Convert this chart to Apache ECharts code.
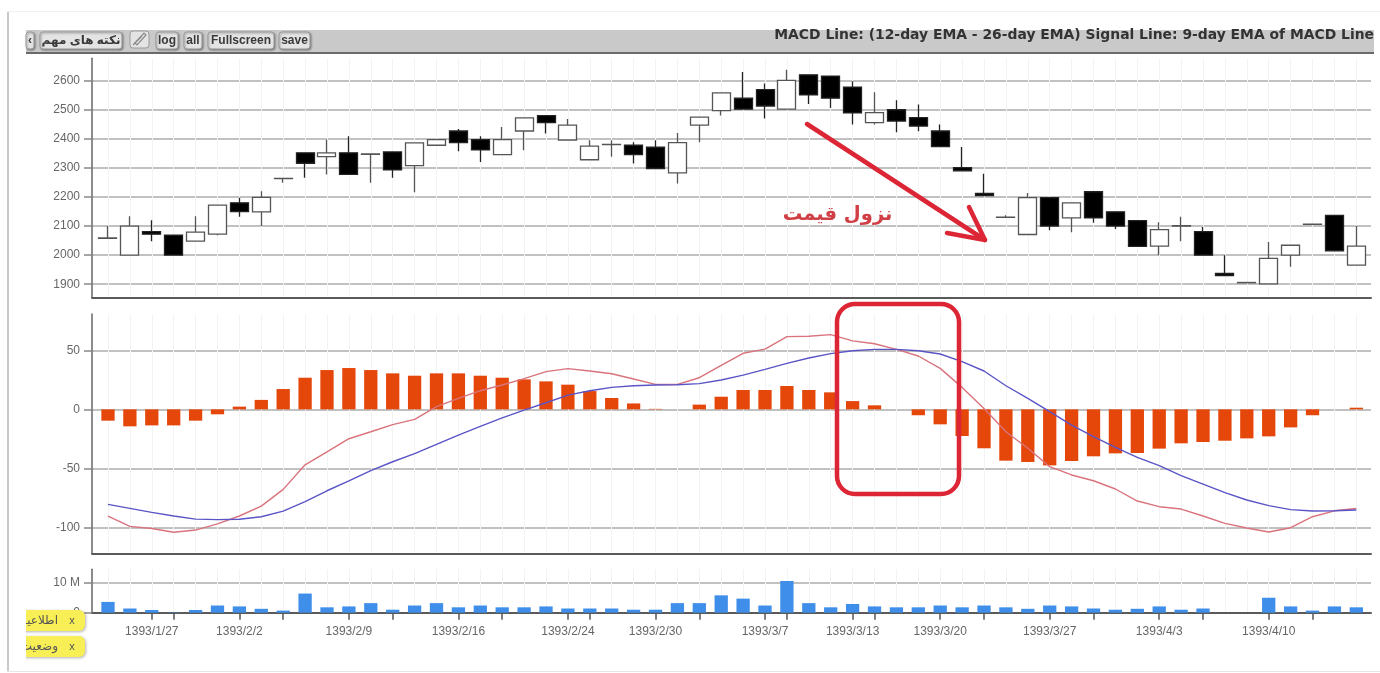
<!DOCTYPE html>
<html>
<head>
<meta charset="utf-8">
<style>html,body{margin:0;padding:0;background:#fff}#main{width:1380px;height:673px}</style>
<script src="https://cdn.jsdelivr.net/npm/echarts@6/dist/echarts.min.js"></script>
</head>
<body>
<div id="main"></div>
<script>
var opens  = [2058,2000,2081,2069,2048,2072,2180,2149,2263,2352,2339,2352,2347,2355,2308,2378,2427,2397,2346,2427,2480,2396,2328,2380,2378,2371,2283,2447,2497,2540,2569,2502,2620,2616,2578,2456,2500,2473,2427,2301,2212,2130,2071,2198,2128,2218,2149,2119,2031,2100,2081,1937,1905,1901,2000,2106,2137,1966];
var closes = [2059,2100,2072,2000,2079,2172,2150,2199,2264,2316,2352,2278,2348,2293,2386,2397,2387,2362,2397,2472,2456,2447,2375,2381,2346,2298,2387,2475,2558,2502,2513,2601,2551,2540,2489,2490,2461,2444,2373,2290,2205,2131,2198,2100,2180,2128,2100,2030,2088,2101,2000,1930,1906,1989,2034,2107,2015,2031];
var lows   = [2058,2000,2048,2000,2048,2068,2132,2100,2249,2266,2277,2278,2249,2266,2216,2378,2357,2320,2346,2361,2418,2396,2328,2338,2315,2298,2246,2388,2480,2502,2470,2502,2520,2506,2449,2449,2423,2426,2373,2290,2205,2128,2071,2086,2079,2111,2090,2030,2000,2048,2000,1930,1905,1901,1960,2105,2015,1966];
var highs  = [2100,2134,2120,2069,2134,2172,2197,2220,2266,2352,2397,2409,2348,2355,2386,2397,2434,2409,2441,2472,2480,2468,2395,2395,2388,2395,2420,2475,2558,2630,2590,2638,2620,2616,2598,2560,2533,2518,2449,2372,2280,2137,2214,2198,2180,2218,2149,2119,2113,2132,2097,2000,1906,2045,2034,2108,2137,2100];

var histogram = [-9.6,-14.4,-13.6,-13.6,-9.6,-4.2,2.3,8,17.2,26.8,33.3,35,33.3,30.5,28.5,30.5,30.5,28.5,26.8,25.4,23.7,20.9,15.5,9.6,5,0.4,0,4,10.7,16.4,16.4,19.8,16.4,14.4,7,3.4,0,-5,-12.7,-22.6,-33,-43.5,-44.6,-47.5,-43.8,-39.8,-37.3,-37,-33.3,-28.8,-27.7,-26.6,-24.6,-22.9,-15.3,-5,0,1.4];
var macdLine = [-90.4,-99.2,-101,-104.2,-102.3,-97,-90.4,-82,-67.8,-47,-36,-24.9,-19,-13,-8.5,2.3,9.3,15.8,20.6,26,32,34.5,32.5,30.2,25.7,21.2,21.2,26.8,37.3,47.5,51,61.6,62,63.3,58,55.6,50.8,45.2,34.7,18.6,0.8,-19,-33,-48.6,-55.6,-60.5,-67.5,-77.7,-82.5,-84.5,-90.4,-96.6,-100.6,-104,-100.3,-91,-86,-84];
var signalLine = [-80.5,-83.9,-87.3,-90.4,-93,-93.5,-93.2,-91,-86.2,-78.2,-69,-60.7,-52,-44.4,-37.6,-29.7,-21.8,-14.4,-7.3,-0.6,5.6,12.1,15.8,18.6,20,20.6,20.9,21.8,24.9,29,33.9,39,43.5,47.2,49.7,50.8,50.8,49.7,46.9,40.4,32.5,20,9.3,-2,-13.3,-23.2,-32.2,-40.7,-47.7,-56.2,-63.3,-70.6,-76.8,-81.6,-85,-86.2,-85.9,-85.3];
var volume = [3.6,1.4,0.9,0.1,0.9,2.4,2.1,1.3,0.7,6.4,1.8,2.1,3.2,1,2.4,3.2,1.8,2.4,1.8,1.8,2.1,1.4,1.4,1.4,1,1,3.2,3.2,5.8,4.7,2.4,10.6,3.2,1.8,2.9,2.1,1.8,1.8,2.4,1.8,2.4,1.8,1.3,2.4,2.1,1.4,1,1.3,2.1,1,1.4,0,0,5,2.1,0.7,2.1,1.8];

var priceTicks = [1900,2000,2100,2200,2300,2400,2500,2600];
var macdTicks = [-100,-50,0,50];
var volumeTicks = [0,10];
var dateLabels = {2:'1393/1/27',6:'1393/2/2',11:'1393/2/9',16:'1393/2/16',21:'1393/2/24',25:'1393/2/30',30:'1393/3/7',34:'1393/3/13',38:'1393/3/20',43:'1393/3/27',48:'1393/4/3',53:'1393/4/10'};
var extraTicks = [3,8,13,18,22,27,31,35,40,45,50,55];

var chart = echarts.init(document.getElementById('main'));

var xMin = -0.73, xMax = 57.67;
var allIdx = opens.map(function (d, i) { return i; });
var labelIdx = Object.keys(dateLabels).map(Number);
var tickIdx = labelIdx.concat(extraTicks).sort(function (a, b) { return a - b; });
var uiFont = '"Liberation Sans", "DejaVu Sans", sans-serif';

function faintX(gridIndex, line) {
    return {
        type: 'value', gridIndex: gridIndex, position: 'bottom', min: xMin, max: xMax,
        axisLine: line ? { onZero: false, lineStyle: { color: '#5a5a5a', width: 2 } } : { show: false },
        axisTick: { show: false, customValues: allIdx },
        axisLabel: { show: false },
        splitLine: { show: true, lineStyle: { color: '#f3f3f3', width: 1 } }
    };
}
function yAxis(gridIndex, min, max, ticks, fmt) {
    return {
        type: 'value', gridIndex: gridIndex, min: min, max: max,
        axisLine: { show: true, onZero: false, lineStyle: { color: '#666', width: 1.5 } },
        axisTick: { show: true, length: 8, customValues: ticks, lineStyle: { color: '#888', width: 1.5 } },
        axisLabel: { customValues: ticks, formatter: fmt, color: '#666', fontSize: 12, margin: 12, fontFamily: uiFont },
        splitLine: { show: true, lineStyle: { color: '#adadad', width: 1.5 } }
    };
}

// small helpers for the toolbar and annotations
function btn(x, w, label) {
    return {
        type: 'group', children: [
            { type: 'rect', shape: { x: x, y: 32, width: w, height: 17, r: 3 }, style: { fill: '#e4e4e4', stroke: '#9a9a9a', lineWidth: 1, shadowColor: 'rgba(0,0,0,.35)', shadowBlur: 2, shadowOffsetX: 1, shadowOffsetY: 1 }, z: 20 },
            { type: 'text', z: 21, style: { x: x + w / 2, y: 40.5, text: label, align: 'center', verticalAlign: 'middle', fill: '#3a3a3a', font: 'bold 12px ' + uiFont } }
        ]
    };
}
function tag(y, label) {
    return {
        type: 'group', children: [
            { type: 'rect', shape: { x: 16, y: y, width: 69, height: 21, r: 6 }, style: { fill: '#f8ee55', shadowColor: 'rgba(0,0,0,.3)', shadowBlur: 3, shadowOffsetX: 1, shadowOffsetY: 1 }, z: 30 },
            { type: 'text', z: 31, style: { x: 58, y: y + 10.5, text: label, align: 'right', verticalAlign: 'middle', fill: '#555', font: '12px "DejaVu Sans"' } },
            { type: 'text', z: 31, style: { x: 72, y: y + 10.5, text: 'x', align: 'center', verticalAlign: 'middle', fill: '#555', font: '11px ' + uiFont } }
        ]
    };
}
var red = '#dc2535';

var option = {
    animation: false,
    backgroundColor: '#fff',
    title: {
        text: 'MACD Line: (12-day EMA - 26-day EMA) Signal Line: 9-day EMA of MACD Line',
        right: 1, top: 23,
        textStyle: { fontFamily: '"DejaVu Sans"', fontWeight: 'bold', fontSize: 13.9, color: '#333' }
    },
    grid: [
        { left: 92, right: 9, top: 58.3, height: 239 },
        { left: 92, right: 9, top: 314, height: 239.3 },
        { left: 92, right: 9, top: 569.3, height: 43.4 }
    ],
    xAxis: [
        faintX(0, true),
        faintX(1, true),
        faintX(2, false),
        {
            type: 'value', gridIndex: 2, position: 'bottom', min: xMin, max: xMax,
            axisLine: { onZero: false, lineStyle: { color: '#5a5a5a', width: 2 } },
            axisTick: { show: true, length: 7, customValues: tickIdx, lineStyle: { color: '#555', width: 1.5 } },
            axisLabel: {
                customValues: labelIdx, color: '#666', fontSize: 12, margin: 13, fontFamily: uiFont,
                formatter: function (v) { return dateLabels[v] || ''; }
            },
            splitLine: { show: false }
        }
    ],
    yAxis: [
        yAxis(0, 1855, 2677, priceTicks, function (v) { return String(v); }),
        yAxis(1, -122, 80.8, macdTicks, function (v) { return String(v); }),
        yAxis(2, 0, 14.5, volumeTicks, function (v) { return v ? v + ' M' : '0'; })
    ],
    series: [
        {
            type: 'candlestick', xAxisIndex: 0, yAxisIndex: 0, barWidth: 18.5,
            itemStyle: { color: '#fff', color0: '#000', borderColor: '#555', borderColor0: '#222', borderWidth: 1.3 },
            data: opens.map(function (o, i) { return [i, o, closes[i], lows[i], highs[i]]; })
        },
        {
            type: 'bar', xAxisIndex: 1, yAxisIndex: 1, barWidth: 13.3,
            itemStyle: { color: '#e5470b' },
            data: histogram.map(function (v, i) { return [i, v]; })
        },
        {
            type: 'line', xAxisIndex: 1, yAxisIndex: 1, symbol: 'none', z: 5,
            lineStyle: { color: '#d9737c', width: 1.4 },
            data: macdLine.map(function (v, i) { return [i, v]; })
        },
        {
            type: 'line', xAxisIndex: 1, yAxisIndex: 1, symbol: 'none', z: 6,
            lineStyle: { color: '#5a55c6', width: 1.4 },
            data: signalLine.map(function (v, i) { return [i, v]; })
        },
        {
            type: 'bar', xAxisIndex: 2, yAxisIndex: 2, barWidth: 13.3,
            itemStyle: { color: '#3f8fea' },
            data: volume.map(function (v, i) { return [i, v]; })
        }
    ],
    graphic: [
        // page frame
        { type: 'rect', z: -1, shape: { x: 7, y: 11, width: 2, height: 660 }, style: { fill: '#c9c9c9' } },
        { type: 'rect', z: -1, shape: { x: 7, y: 11, width: 1373, height: 1 }, style: { fill: '#f0f0f0' } },
        { type: 'rect', z: -1, shape: { x: 7, y: 671, width: 1373, height: 1 }, style: { fill: '#e6e6e6' } },
        // toolbar
        { type: 'rect', z: -1, shape: { x: 26, y: 30, width: 1348, height: 23 }, style: { fill: '#c9c9c9' } },
        { type: 'rect', z: -1, shape: { x: 26, y: 52, width: 1348, height: 2 }, style: { fill: '#6a6a6a' } },
        btn(26, 8, '‹'),
        btn(40, 82, 'نکته های مهم'),
        { type: 'rect', z: 20, shape: { x: 130, y: 31, width: 19, height: 17, r: 3 }, style: { fill: '#e4e4e4', stroke: '#9a9a9a', lineWidth: 1 } },
        { type: 'polyline', z: 21, shape: { points: [[133, 45], [144, 33], [146, 35], [137, 45], [135, 43], [142, 36]] }, style: { fill: 'none', stroke: '#888', lineWidth: 1.2 } },
        btn(156, 22, 'log'),
        btn(184, 18, 'all'),
        btn(208, 66, 'Fullscreen'),
        btn(279, 31, 'save'),
        // yellow tags, cut at the left edge
        tag(610, 'اطلاعیه'),
        tag(636, 'وضعیت'),
        { type: 'rect', z: 32, shape: { x: 10, y: 605, width: 16, height: 58 }, style: { fill: '#fff' } },
        // annotations
        { type: 'line', z: 40, shape: { x1: 807, y1: 124, x2: 985, y2: 240 }, style: { stroke: red, lineWidth: 4.5, lineCap: 'round' } },
        { type: 'polyline', z: 40, shape: { points: [[969, 207], [985, 240], [947, 233]] }, style: { fill: 'none', stroke: red, lineWidth: 4.5, lineCap: 'round', lineJoin: 'round' } },
        { type: 'rect', z: 40, shape: { x: 837, y: 304, width: 122, height: 190, r: 18 }, style: { fill: 'none', stroke: red, lineWidth: 4.5 } },
        { type: 'text', z: 40, style: { x: 837.5, y: 215, text: 'نزول قیمت', align: 'center', verticalAlign: 'middle', fill: '#cf3f45', font: 'bold 19.5px "DejaVu Sans"' } }
    ]
};

chart.setOption(option);
</script>
</body>
</html>
